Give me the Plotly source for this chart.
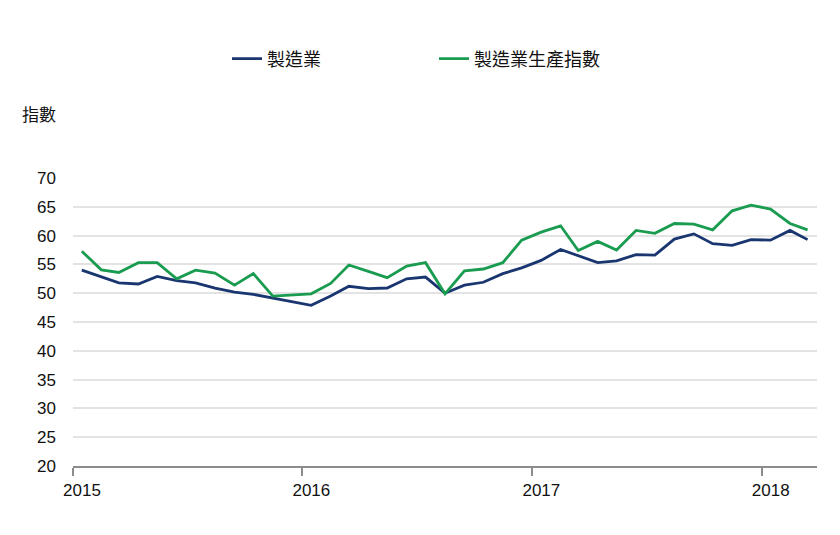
import plotly.graph_objects as go

months = [f"{y}-{m:02d}-15" for y in range(2015, 2019) for m in range(1, 13)][:39]

manufacturing = [54.0, 52.9, 51.8, 51.6, 52.9, 52.2, 51.8, 50.9, 50.2, 49.8, 49.2, 48.6,
                 47.9, 49.5, 51.2, 50.8, 50.9, 52.5, 52.8, 50.0, 51.4, 51.9, 53.4, 54.4,
                 55.7, 57.6, 56.5, 55.3, 55.6, 56.7, 56.6, 59.4, 60.3, 58.6, 58.3, 59.3,
                 59.2, 60.9, 59.3]

production_index = [57.3, 54.05, 53.6, 55.3, 55.3, 52.5, 54.0, 53.5, 51.4, 53.4, 49.5, 49.7,
                    49.9, 51.7, 54.9, 53.8, 52.7, 54.7, 55.3, 49.9, 53.9, 54.2, 55.3, 59.2,
                    60.6, 61.7, 57.4, 59.0, 57.5, 60.9, 60.4, 62.1, 62.0, 61.0, 64.3, 65.3,
                    64.6, 62.1, 61.0]

series_names = ["製造業", "製造業生產指數"]
y_ticks = list(range(20, 75, 5))
x_ticks = ["2015-01-01", "2016-01-01", "2017-01-01", "2018-01-01"]
x_labels = ["2015", "2016", "2017", "2018"]

FONT = "Liberation Sans, Arial, Noto Sans CJK TC, sans-serif"
CJK = "Noto Sans CJK TC, sans-serif"
BLUE = "#1a3670"
GREEN = "#1a9c50"

# page has an 8px body offset; figure sized to fill the rest of the window
W, H = 832, 527
L, R, T, B = 65, 23, 170, 69
PW, PH = W - L - R, H - T - B

fig = go.Figure()
fig.add_trace(go.Scatter(x=months, y=manufacturing, mode="lines", name=series_names[0],
                         line=dict(color=BLUE, width=2.8)))
fig.add_trace(go.Scatter(x=months, y=production_index, mode="lines", name=series_names[1],
                         line=dict(color=GREEN, width=2.8)))

fig.update_layout(
    width=W, height=H,
    margin=dict(l=L, r=R, t=T, b=B),
    paper_bgcolor="white", plot_bgcolor="white",
    font=dict(family=FONT, size=17, color="#111111"),
    showlegend=True,
    legend=dict(orientation="h", xref="container", yref="container",
                x=219/W, y=1-51/H, xanchor="left", yanchor="middle",
                entrywidth=162, entrywidthmode="pixels", itemwidth=30,
                font=dict(size=18, family=CJK, color="#111111"),
                bgcolor="rgba(0,0,0,0)"),
    xaxis=dict(type="date", range=["2015-01-01", "2018-03-30"],
               tickvals=x_ticks, ticktext=x_labels, ticklabelshift=9,
               showgrid=False, showline=True, linecolor="#8c8c8c", linewidth=2,
               ticks="outside", ticklen=8, tickwidth=1.5, tickcolor="#8c8c8c",
               tickfont=dict(size=17), zeroline=False),
    yaxis=dict(range=[20, 70], tickvals=y_ticks,
               showgrid=True, gridcolor="#e3e3e3", gridwidth=1.5,
               showline=False, zeroline=False, ticks="", ticklabelstandoff=16,
               tickfont=dict(size=17)),
    annotations=[dict(text="指數", xref="paper", yref="paper",
                      x=(12 - L) / PW, y=(H - B - 105) / PH,
                      xanchor="left", yanchor="middle", showarrow=False,
                      font=dict(size=17, family=CJK, color="#111111"))],
)

fig.write_html("out.html")
